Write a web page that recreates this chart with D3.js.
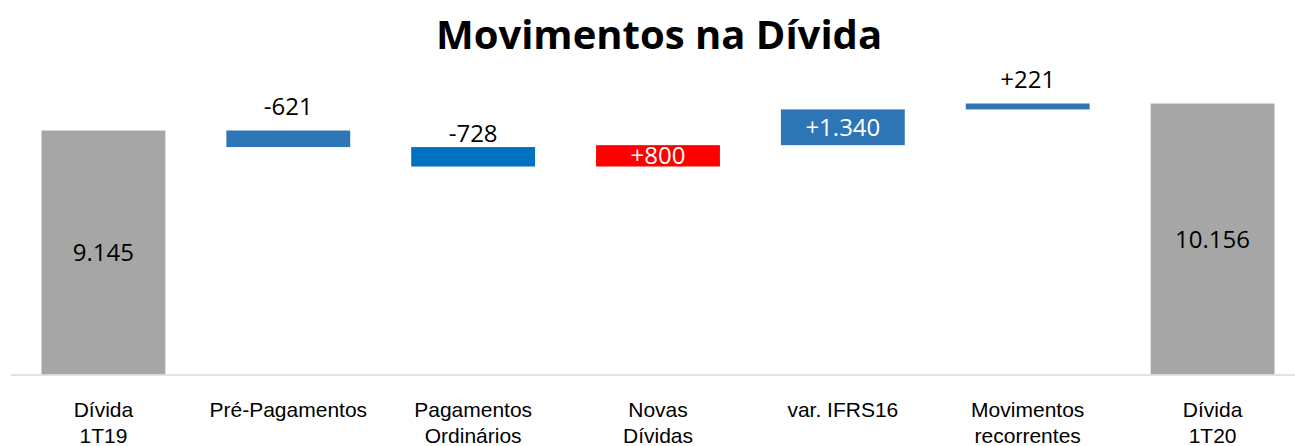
<!DOCTYPE html>
<html>
<head>
<meta charset="utf-8">
<script src="https://cdn.jsdelivr.net/npm/d3@7"></script>
<style>
  body { margin: 0; background: #fff; }
  svg { display: block; font-family: "Open Sans", sans-serif; }
</style>
</head>
<body>
<svg id="chart" width="1295" height="446"></svg>
<script>
// categories (line breaks mark the wrapped tick labels)
const categories = ["Dívida\n1T19", "Pré-Pagamentos", "Pagamentos\nOrdinários", "Novas\nDívidas", "var. IFRS16", "Movimentos\nrecorrentes", "Dívida\n1T20"];
// bar values: totals for first/last, changes for the rest
const values = [9145, -621, -728, 800, 1340, 221, 10156];
const kinds = ["total", "delta", "delta", "delta", "delta", "delta", "total"];
const valueLabels = ["9.145", "-621", "-728", "+800", "+1.340", "+221", "10.156"];
const barColors = ["#A6A6A6", "#2E75B6", "#0070C0", "#FF0000", "#2E75B6", "#2E75B6", "#A6A6A6"];

const svg = d3.select("#chart");

// running totals -> start/end of each bar
let running = 0;
const bars = categories.map((c, i) => {
    let y0, y1;
    if (kinds[i] === "total") { y0 = 0; y1 = values[i]; running = values[i]; }
    else { y0 = running; y1 = running + values[i]; running = y1; }
    return { cat: c, lo: Math.min(y0, y1), hi: Math.max(y0, y1), label: valueLabels[i], color: barColors[i], kind: kinds[i] };
});

const x = d3.scaleBand().domain(categories).range([11, 1305]).paddingInner(0.33).paddingOuter(0.165);
const y = d3.scaleLinear().domain([0, 10000]).range([374.5, 374.5 - 266.8]);

// title
svg.append("text")
    .attr("x", 659).attr("y", 49)
    .attr("text-anchor", "middle")
    .style("font-size", "40px").style("font-weight", "bold")
    .text("Movimentos na Dívida");

// bars
svg.selectAll("rect.bar").data(bars).join("rect")
    .attr("class", "bar")
    .attr("x", d => x(d.cat))
    .attr("width", x.bandwidth())
    .attr("y", d => y(d.hi))
    .attr("height", d => y(d.lo) - y(d.hi))
    .attr("fill", d => d.color);

// axis line + category labels
const axis = svg.append("g").attr("transform", "translate(0,375)")
    .call(d3.axisBottom(x).tickSize(0).tickPadding(0).tickFormat(""));
axis.select(".domain").attr("d", "M11,0H1295").attr("stroke", "#D9D9D9").attr("stroke-width", 1.5);

axis.selectAll(".tick").each(function(d) {
    const t = d3.select(this).append("text")
        .attr("fill", "#000").attr("text-anchor", "middle")
        .style("font-size", "21px");
    d.split("\n").forEach((line, k) => {
        t.append("tspan").attr("x", 0).attr("y", 42 + k * 26).text(line);
    });
});

// value labels: inside when the bar is tall enough, otherwise above
const labelNudge = { "Pagamentos\nOrdinários": 11 };
svg.selectAll("text.val").data(bars).join("text")
    .attr("class", "val")
    .attr("text-anchor", "middle")
    .style("font-size", "24px")
    .attr("x", d => x(d.cat) + x.bandwidth() / 2)
    .attr("y", d => {
        const h = y(d.lo) - y(d.hi);
        if (d.kind === "total" || h >= 20) return (y(d.lo) + y(d.hi)) / 2 + 8.5;
        return y(d.hi) - 16 + (labelNudge[d.cat] || 0);
    })
    .attr("fill", d => (d.kind === "delta" && y(d.lo) - y(d.hi) >= 20) ? "#fff" : "#000")
    .text(d => d.label);
</script>
</body>
</html>
